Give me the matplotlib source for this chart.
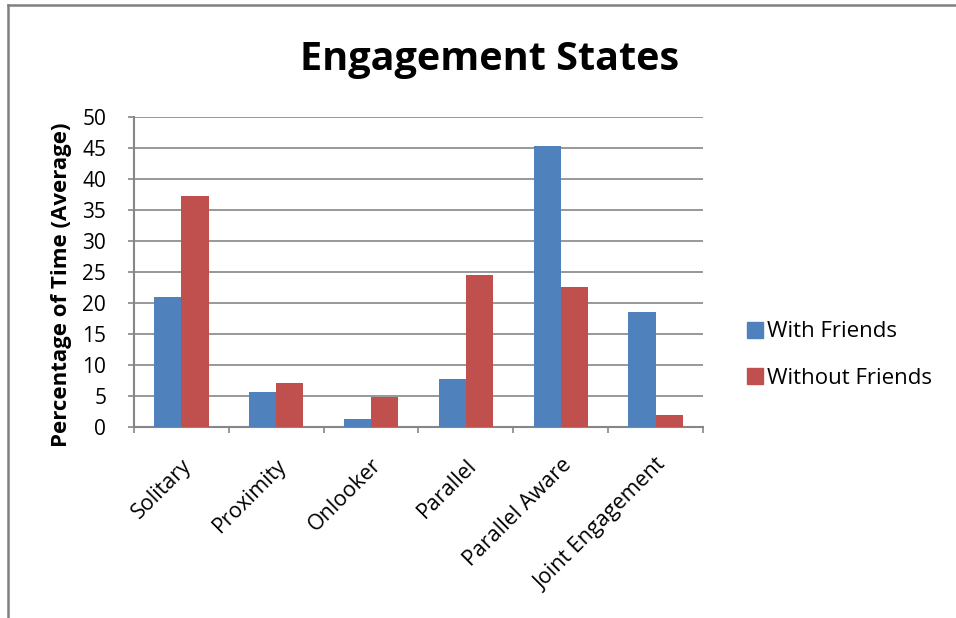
import matplotlib
matplotlib.use("Agg")
import matplotlib.pyplot as plt
from matplotlib.lines import Line2D
import numpy as np

categories = ["Solitary", "Proximity", "Onlooker", "Parallel", "Parallel Aware", "Joint Engagement"]
with_friends = [21.0, 5.6, 1.3, 7.7, 45.3, 18.5]
without_friends = [37.3, 7.1, 4.9, 24.5, 22.6, 1.9]
series_names = ["With Friends", "Without Friends"]
yticks = [0, 5, 10, 15, 20, 25, 30, 35, 40, 45, 50]

BLUE = "#4F81BD"
RED = "#C0504D"
GRID = "#868686"

plt.rcParams["font.family"] = ["Open Sans", "DejaVu Sans"]

fig = plt.figure(figsize=(9.56, 6.18), dpi=100)
ax = fig.add_axes([134 / 956, 1 - 427 / 618, (703 - 134) / 956, 310 / 618])

x = np.arange(len(categories))
w = 1 / 3.5
ax.bar(x - w / 2, with_friends, width=w, color=BLUE, label=series_names[0], zorder=3)
ax.bar(x + w / 2, without_friends, width=w, color=RED, label=series_names[1], zorder=3)

ax.set_xlim(-0.5, len(categories) - 0.5)
ax.set_ylim(0, 50)
ax.set_yticks(yticks)
ax.set_yticklabels([str(v) for v in yticks], fontsize=15)
ax.yaxis.grid(True, color=GRID, linewidth=1.2, zorder=0)
ax.set_axisbelow(True)

for s in ["top", "right"]:
    ax.spines[s].set_visible(False)
for s in ["left", "bottom"]:
    ax.spines[s].set_color(GRID)
    ax.spines[s].set_linewidth(1.5)
ax.tick_params(axis="y", length=4, color=GRID, width=1.2, pad=16)

# category labels on rotated text, with boundary ticks on the x axis
ax.set_xticks(x)
ax.set_xticklabels(categories, rotation=45, ha="right", rotation_mode="anchor", fontsize=15.5)
ax.tick_params(axis="x", length=0, pad=20)
ax.set_xticks(np.arange(-0.5, len(categories)), minor=True)
ax.tick_params(axis="x", which="minor", length=4, color=GRID, width=1.2)

ax.set_ylabel("Percentage of Time (Average)", fontsize=16, fontweight="bold")
ax.yaxis.set_label_coords(-62 / 569, 142 / 310)

fig.text(490 / 956, 1 - 70 / 618, "Engagement States", fontsize=28.5, fontweight="bold",
         ha="center", va="baseline")

handles = [Line2D([], [], marker="s", linestyle="none", markersize=11,
                  markerfacecolor=c, markeredgecolor=c) for c in (BLUE, RED)]
fig.legend(handles, series_names, loc="center left",
           bbox_to_anchor=(733 / 956, 1 - 355 / 618), frameon=False, fontsize=16,
           labelspacing=1.14, handletextpad=0.05, handlelength=1.0, borderpad=0)

# page frame lines around the figure
fig.add_artist(Line2D([8 / 956, 1], [1 - 4.5 / 618, 1 - 4.5 / 618], color="#808080",
                      linewidth=1.8, transform=fig.transFigure))
fig.add_artist(Line2D([8 / 956, 8 / 956], [0, 1 - 4.5 / 618], color="#808080",
                      linewidth=1.8, transform=fig.transFigure))

fig.savefig("out.png", dpi=100)
